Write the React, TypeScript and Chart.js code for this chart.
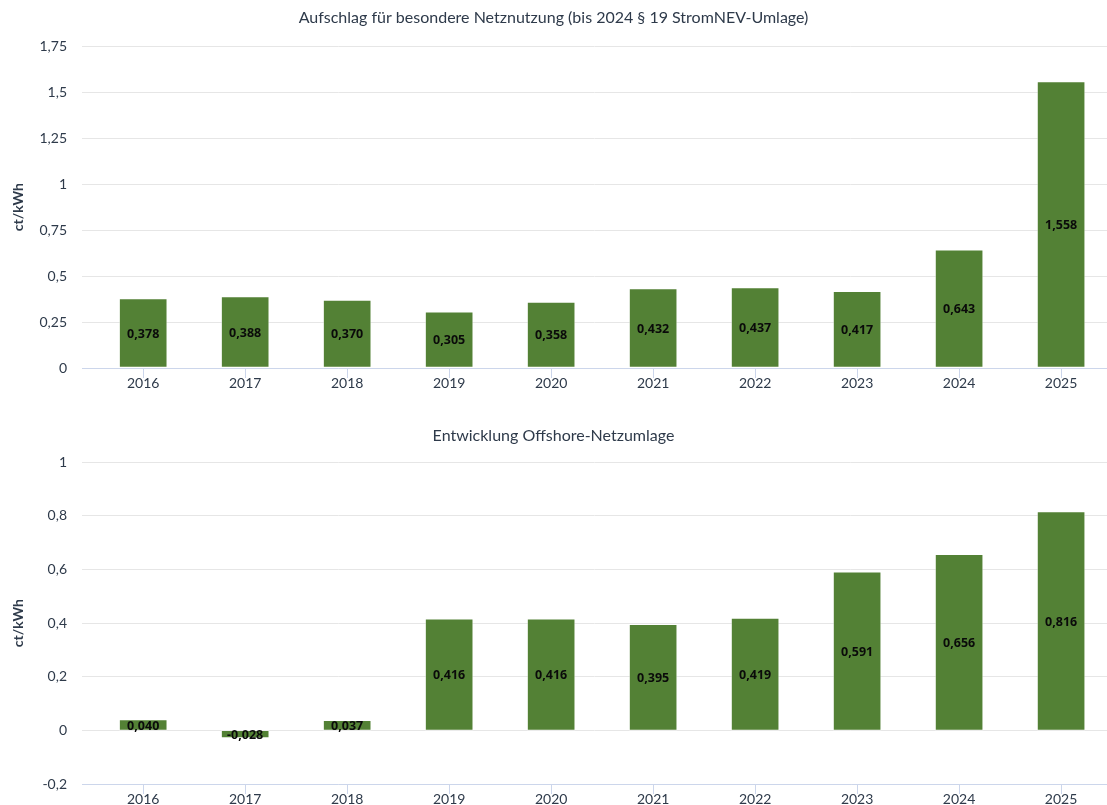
import React, { useEffect, useRef } from "react";
import { Chart, registerables } from "chart.js";

Chart.register(...registerables);

const years = ["2016", "2017", "2018", "2019", "2020", "2021", "2022", "2023", "2024", "2025"];
const stromNevValues = [0.378, 0.388, 0.37, 0.305, 0.358, 0.432, 0.437, 0.417, 0.643, 1.558];
const offshoreValues = [0.04, -0.028, 0.037, 0.416, 0.416, 0.395, 0.419, 0.591, 0.656, 0.816];

const title1 = "Aufschlag für besondere Netznutzung (bis 2024 § 19 StromNEV-Umlage)";
const title2 = "Entwicklung Offshore-Netzumlage";
const yTitle = "ct/kWh";

const BAR_COLOR = "#538135";
const TEXT_COLOR = "#2e3a4a";
const FONT = "Lato";

const fmtTick = (v: number) => {
  const s = Number(v.toFixed(2)).toString();
  return s.replace(".", ",");
};

const labelPlugin = {
  id: "barValueLabels",
  afterDatasetsDraw(chart: any) {
    const ctx = chart.ctx;
    chart.data.datasets.forEach((ds: any, di: number) => {
      const meta = chart.getDatasetMeta(di);
      meta.data.forEach((el: any, i: number) => {
        const raw = ds.data[i];
        const v = typeof raw === "object" ? raw.y : raw;
        const txt = v.toFixed(3).replace(".", ",");
        const cy = (el.y + el.base) / 2;
        ctx.save();
        ctx.font = 'bold 12.5px "Noto Sans"';
        ctx.fillStyle = "#0a0a0a";
        ctx.textAlign = "center";
        ctx.textBaseline = "middle";
        ctx.fillText(txt, el.x, cy + 1);
        ctx.restore();
      });
    });
  },
};

function makeConfig(
  title: string,
  values: number[],
  yMin: number,
  yMax: number,
  step: number,
  titlePad: { top: number; bottom: number },
  xHeight: number
): any {
  return {
    type: "bar",
    data: {
      datasets: [
        {
          data: years.map((_, i) => ({ x: i, y: values[i] })),
          backgroundColor: BAR_COLOR,
          borderColor: "rgba(255,255,255,0.35)",
          borderWidth: 1,
          borderSkipped: false,
          barThickness: 48,
        },
      ],
    },
    options: {
      responsive: false,
      animation: false,
      devicePixelRatio: 1,
      layout: { padding: { left: 0, right: 0, top: 0, bottom: 0 } },
      plugins: {
        legend: { display: false },
        tooltip: { enabled: false },
        title: {
          display: true,
          text: title,
          color: TEXT_COLOR,
          font: { family: FONT, size: 16, weight: "normal" },
          padding: titlePad,
        },
      },
      scales: {
        x: {
          type: "linear",
          min: -0.6,
          max: 9.45,
          offset: false,
          afterBuildTicks: (scale: any) => {
            scale.ticks = years.map((_, i) => ({ value: i }));
          },
          afterFit: (scale: any) => {
            scale.height = xHeight;
          },
          ticks: {
            autoSkip: false,
            maxRotation: 0,
            padding: -3,
            color: TEXT_COLOR,
            font: { family: FONT, size: 14 },
            callback: (v: number) => years[v] ?? "",
          },
          grid: {
            display: true,
            offset: false,
            drawOnChartArea: false,
            drawTicks: true,
            tickLength: 10,
            color: "#ccd6eb",
          },
          border: { display: true, color: "#ccd6eb", width: 1 },
        },
        y: {
          min: yMin,
          max: yMax,
          afterFit: (scale: any) => {
            scale.width = 82;
          },
          ticks: {
            stepSize: step,
            padding: 15,
            color: TEXT_COLOR,
            font: { family: FONT, size: 14 },
            callback: (v: number) => fmtTick(v),
          },
          grid: { color: "#e6e6e6", drawTicks: false },
          border: { display: false },
          title: {
            display: true,
            text: yTitle,
            color: TEXT_COLOR,
            font: { family: FONT, size: 14, weight: "bold" },
            padding: { top: 10, bottom: 0 },
          },
        },
      },
    },
    plugins: [labelPlugin],
  };
}

export default function App() {
  const ref1 = useRef<HTMLCanvasElement>(null);
  const ref2 = useRef<HTMLCanvasElement>(null);

  useEffect(() => {
    document.body.style.margin = "0";
    document.body.style.overflow = "hidden";
    const c1 = new Chart(
      ref1.current as HTMLCanvasElement,
      makeConfig(title1, stromNevValues, 0, 1.75, 0.25, { top: 8, bottom: 19 }, 42)
    );
    const c2 = new Chart(
      ref2.current as HTMLCanvasElement,
      makeConfig(title2, offshoreValues, -0.2, 1, 0.2, { top: 16, bottom: 17 }, 26)
    );
    return () => {
      c1.destroy();
      c2.destroy();
    };
  }, []);

  return (
    <div style={{ width: 1107, background: "#fff" }}>
      <canvas ref={ref1} width={1107} height={410} style={{ display: "block" }} />
      <canvas ref={ref2} width={1107} height={400} style={{ display: "block" }} />
    </div>
  );
}
